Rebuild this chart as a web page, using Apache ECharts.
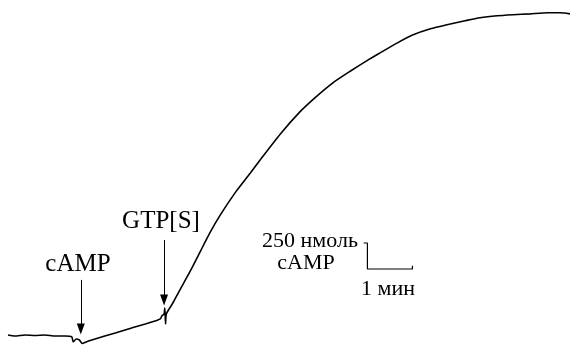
<!DOCTYPE html>
<html>
<head>
<meta charset="utf-8">
<script src="https://cdn.jsdelivr.net/npm/echarts@6/dist/echarts.min.js"></script>
<style>
  html, body { margin: 0; padding: 0; background: #fff; }
  #chart { width: 573px; height: 346px; }
</style>
</head>
<body>
<div id="chart"></div>
<script>
// Adenylate cyclase recording: cAMP formed (nmol) vs time (s)
const timeSec = [0, 9, 23, 36, 49, 63, 76, 85, 87, 91, 95, 99, 104, 116, 129, 143, 156, 169, 183, 196,
  203, 205, 208, 209, 210, 211, 219, 229, 243, 256, 269, 283, 304, 323, 336, 363, 389, 409, 433, 456,
  479, 496, 519, 540, 563, 585, 609, 629, 652, 673, 696, 719, 736, 749];
const campNmol = [6, -4, 6, 1, 6, -4, -4, -13, -61, -33, -42, -76, -61, -33, -4, 25, 54, 83, 111, 140,
  160, 188, 208, 265, 112, 208, 304, 438, 621, 804, 987, 1160, 1386, 1563, 1688, 1938, 2150, 2285, 2429, 2540,
  2645, 2717, 2813, 2890, 2948, 2987, 3025, 3054, 3073, 3083, 3092, 3102, 3102, 3092];

// Additions: time of addition (s) and arrow span (nmol)
const additionNames = ['cAMP', 'GTP[S]'];
const additionTimes = [97, 208];
const arrowTop = [535, 919];
const arrowBottom = [63, 342];

// Scale bar: 250 nmol by 1 min, anchored at its corner
const scaleNmol = 250;
const scaleSec = 60;
const scaleCorner = [479, 640];

const trace = timeSec.map((t, i) => [t, campNmol[i]]);

const scaleBar = [
  [scaleCorner[0] - 5, scaleCorner[1] + scaleNmol],
  [scaleCorner[0], scaleCorner[1] + scaleNmol],
  [scaleCorner[0], scaleCorner[1]],
  [scaleCorner[0] + scaleSec, scaleCorner[1]],
  [scaleCorner[0] + scaleSec, scaleCorner[1] + 30]
];

const arrows = additionTimes.map((t, i) => [
  { coord: [t, arrowTop[i]] },
  { coord: [t, arrowBottom[i]] }
]);

const serif = '"Liberation Serif", "DejaVu Serif", serif';

const chart = echarts.init(document.getElementById('chart'), null, { renderer: 'canvas' });
chart.setOption({
  animation: false,
  backgroundColor: '#ffffff',
  grid: { left: 8, right: 0, top: 0, bottom: 0 },
  xAxis: { type: 'value', min: 0, max: 753, show: false },
  yAxis: { type: 'value', min: -100, max: 3225, show: false },
  series: [
    {
      type: 'line',
      data: trace,
      showSymbol: false,
      smooth: 0.2,
      lineStyle: { color: '#000', width: 1.6 },
      markLine: {
        silent: true,
        symbol: ['none', 'triangle'],
        symbolSize: [8, 11],
        label: { show: false },
        lineStyle: { color: '#000', width: 1, type: 'solid' },
        data: arrows
      }
    },
    {
      type: 'line',
      data: scaleBar,
      showSymbol: false,
      lineStyle: { color: '#000', width: 1.2 }
    }
  ],
  graphic: [
    { type: 'text', x: 78, y: 264, style: { text: additionNames[0], font: '25px ' + serif, fill: '#000', align: 'center', verticalAlign: 'middle' } },
    { type: 'text', x: 161, y: 221, style: { text: additionNames[1], font: '25px ' + serif, fill: '#000', align: 'center', verticalAlign: 'middle' } },
    { type: 'text', x: 358, y: 241, style: { text: '250 нмоль', font: '22px ' + serif, fill: '#000', align: 'right', verticalAlign: 'middle' } },
    { type: 'text', x: 306, y: 263, style: { text: 'cAMP', font: '22px ' + serif, fill: '#000', align: 'center', verticalAlign: 'middle' } },
    { type: 'text', x: 388, y: 289, style: { text: '1 мин', font: '22px ' + serif, fill: '#000', align: 'center', verticalAlign: 'middle' } }
  ]
});
</script>
</body>
</html>
